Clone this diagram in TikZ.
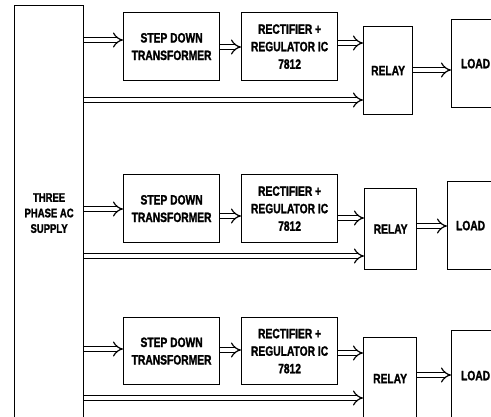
\documentclass[tikz,border=0pt]{standalone}
\usepackage{fontspec}
\newfontfamily\lblfont{Liberation Sans Bold}[FakeStretch=0.76,FakeBold=1.5]
\usetikzlibrary{arrows.meta}
\begin{document}
\begin{tikzpicture}[x=1pt,y=-1pt,
  blk/.style={draw, line width=1.2pt, inner sep=0pt, align=center, anchor=north west,
    font=\lblfont\fontsize{13.5}{17.5}\selectfont},
  conn/.style={double, double distance=4pt, line width=1.2pt, -{Implies[scale=1.35]}}]
\useasboundingbox (0,0) rectangle (491,416);
% supply
\node[blk, minimum width=69pt, minimum height=415pt,
  font=\lblfont\fontsize{12.5}{15.5}\selectfont] (sup) at (14,5) {THREE\\PHASE AC\\SUPPLY};
% row 1
\node[blk, minimum width=96pt, minimum height=68pt] (sd1) at (123,12) {STEP DOWN\\TRANSFORMER};
\node[blk, minimum width=96pt, minimum height=68pt] (rc1) at (241,12) {RECTIFIER +\\REGULATOR IC\\7812};
\node[blk, minimum width=49pt, minimum height=88pt] (rl1) at (363,26) {RELAY};
\node[blk, minimum width=48pt, minimum height=88pt] (ld1) at (451,19) {LOAD};
% row 2
\node[blk, minimum width=96pt, minimum height=68pt] (sd2) at (123,174) {STEP DOWN\\TRANSFORMER};
\node[blk, minimum width=96pt, minimum height=68pt] (rc2) at (241,174) {RECTIFIER +\\REGULATOR IC\\7812};
\node[blk, minimum width=52pt, minimum height=81pt] (rl2) at (364,188) {RELAY};
\node[blk, minimum width=46pt, minimum height=88pt] (ld2) at (447,181) {LOAD};
% row 3
\node[blk, minimum width=96pt, minimum height=67pt] (sd3) at (123,317) {STEP DOWN\\TRANSFORMER};
\node[blk, minimum width=96pt, minimum height=67pt] (rc3) at (241,317) {RECTIFIER +\\REGULATOR IC\\7812};
\node[blk, minimum width=53pt, minimum height=82pt] (rl3) at (363,337) {RELAY};
\node[blk, minimum width=48pt, minimum height=90pt] (ld3) at (451,330) {LOAD};
% connectors row 1
\draw[conn] (sup.east |- 0,40) -- (sd1.west |- 0,40);
\draw[conn] (sd1.east |- 0,47) -- (rc1.west |- 0,47);
\draw[conn] (rc1.east |- 0,43) -- (rl1.west |- 0,43);
\draw[conn] (rl1.east |- 0,70) -- (ld1.west |- 0,70);
\draw[conn] (sup.east |- 0,100) -- (rl1.west |- 0,100);
% connectors row 2
\draw[conn] (sup.east |- 0,209) -- (sd2.west |- 0,209);
\draw[conn] (sd2.east |- 0,216) -- (rc2.west |- 0,216);
\draw[conn] (rc2.east |- 0,218) -- (rl2.west |- 0,218);
\draw[conn] (rl2.east |- 0,226) -- (ld2.west |- 0,226);
\draw[conn] (sup.east |- 0,256) -- (rl2.west |- 0,256);
% connectors row 3
\draw[conn] (sup.east |- 0,349) -- (sd3.west |- 0,349);
\draw[conn] (sd3.east |- 0,350) -- (rc3.west |- 0,350);
\draw[conn] (rc3.east |- 0,353) -- (rl3.west |- 0,353);
\draw[conn] (rl3.east |- 0,375) -- (ld3.west |- 0,375);
\draw[conn] (sup.east |- 0,398) -- (rl3.west |- 0,398);
\end{tikzpicture}
\end{document}
